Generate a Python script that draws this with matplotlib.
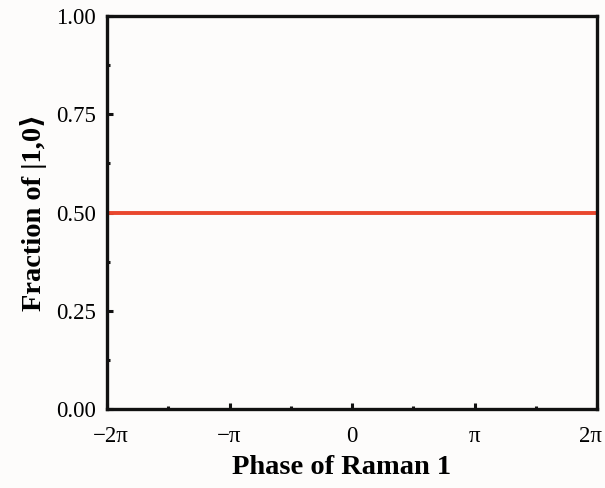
import numpy as np
import matplotlib.pyplot as plt
import matplotlib.transforms as mtransforms
from matplotlib.ticker import MultipleLocator

# data
phase = [-2 * np.pi, 2 * np.pi]
fraction = [0.5, 0.5]
x_ticks = [-2 * np.pi, -np.pi, 0, np.pi, 2 * np.pi]
x_labels = ['\u22122\u03c0', '\u2212\u03c0', '0', '\u03c0', '2\u03c0']
y_ticks = [0.0, 0.25, 0.5, 0.75, 1.0]

plt.rcParams['font.family'] = ['Liberation Serif', 'DejaVu Serif']

fig = plt.figure(figsize=(6.05, 4.88), dpi=100, facecolor='#fdfcfb')
ax = fig.add_axes([0.177, 0.162, 0.810, 0.805])
ax.set_facecolor('#fdfcfb')

ax.plot(phase, fraction, color='#e9472d', linewidth=2.8, solid_capstyle='butt')

ax.set_xlim(-2 * np.pi, 2 * np.pi)
ax.set_ylim(0, 1)
ax.set_xticks(x_ticks)
ax.set_xticklabels(x_labels)
ax.set_yticks(y_ticks)
ax.set_yticklabels(['%.2f' % v for v in y_ticks])
ax.xaxis.set_minor_locator(MultipleLocator(np.pi / 2))
ax.yaxis.set_minor_locator(MultipleLocator(0.125))

for s in ax.spines.values():
    s.set_linewidth(2.4)
    s.set_color('#111111')

ax.tick_params(which='both', direction='in', top=False, right=False,
               width=2.2, labelsize=16.5, color='#111111')
ax.tick_params(axis='y', pad=8)
ax.tick_params(axis='x', pad=12)
ax.tick_params(which='major', length=4.5)
ax.tick_params(which='minor', length=2.5)

# nudge the outer x labels inwards a bit, like the original
xl = ax.get_xticklabels()
xl[0].set_transform(xl[0].get_transform() + mtransforms.ScaledTranslation(3 / 72, 0, fig.dpi_scale_trans))
xl[-1].set_transform(xl[-1].get_transform() + mtransforms.ScaledTranslation(-5 / 72, 0, fig.dpi_scale_trans))

ax.set_xlabel('Phase of Raman 1', fontsize=20.5, fontweight='bold')
ax.set_ylabel('Fraction of |1,0\u27e9', fontsize=20.5, fontweight='bold')
ax.xaxis.set_label_coords(0.479, -0.118)
ax.yaxis.set_label_coords(-0.122, 0.5)

fig.savefig('out.png', dpi=100, facecolor=fig.get_facecolor())
